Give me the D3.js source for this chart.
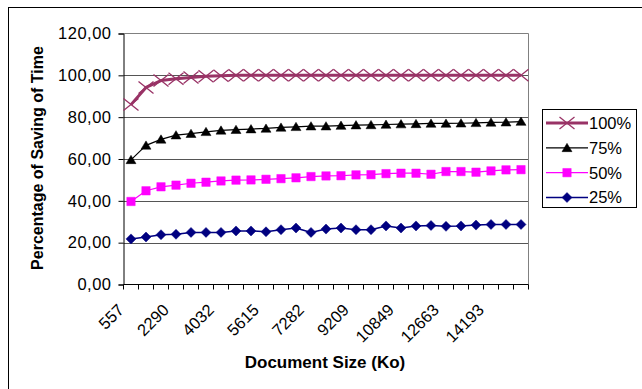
<!DOCTYPE html>
<html>
<head>
<meta charset="utf-8">
<script src="https://cdn.jsdelivr.net/npm/d3@7"></script>
<style>
  body { margin: 0; background: #fff; }
  svg { display: block; }
  text { font-family: "Liberation Sans", Arial, sans-serif; fill: #000; }
</style>
</head>
<body>
<svg id="chart" width="642" height="389"></svg>
<script>
// Document sizes (Ko) shown under every third measurement
const sizeLabels = ["557", "2290", "4032", "5615", "7282", "9209", "10849", "12663", "14193"];
const labelStep = 3;
const measurementIndex = d3.range(27);

const yTickValues = [0, 20, 40, 60, 80, 100, 120];

// Percentage of saving of time for each share of the document
const saving100 = [86.0, 94.2, 97.5, 98.4, 99.0, 99.6, 99.8, 100, 100, 100, 100, 100, 100, 100,
                   100, 100, 100, 100, 100, 100, 100, 100, 100, 100, 100, 100, 100];
const saving75 = [59.6, 66.5, 69.4, 71.4, 72.1, 73.0, 73.7, 74.0, 74.3, 74.6, 75.1, 75.4, 75.7, 75.7,
                  76.0, 76.2, 76.3, 76.5, 76.7, 76.8, 77.0, 77.0, 77.1, 77.3, 77.5, 77.6, 77.9];
const saving50 = [39.7, 44.8, 46.7, 47.5, 48.4, 48.9, 49.5, 49.9, 50.0, 50.3, 50.6, 51.0, 51.6, 51.9,
                  52.0, 52.4, 52.5, 53.0, 53.2, 53.2, 52.7, 54.0, 54.0, 53.7, 54.3, 54.8, 54.9];
const saving25 = [21.8, 22.7, 23.8, 24.0, 24.9, 24.9, 24.9, 25.6, 25.6, 25.2, 26.2, 27.0, 24.9, 26.5,
                  27.0, 26.2, 26.2, 28.0, 27.0, 28.0, 28.2, 27.8, 28.0, 28.4, 28.7, 28.7, 28.7];

const seriesNames = ["100%", "75%", "50%", "25%"];
const seriesValues = [saving100, saving75, saving50, saving25];

// Drawing styles per series
const styles = [
  { color: "#993366", width: 3,   marker: "cross"    },
  { color: "#000000", width: 1.2, marker: "triangle" },
  { color: "#FF00FF", width: 1.2, marker: "square"   },
  { color: "#000080", width: 1.5, marker: "diamond"  }
];

const markerPath = {
  cross:    "M-7.5,-6L7.5,6M-7.5,6L7.5,-6",
  triangle: "M0,-4.5L5,3.8L-5,3.8Z",
  square:   "M-4.2,-4.2H4.2V4.2H-4.2Z",
  diamond:  "M0,-5L5,0L0,5L-5,0Z"
};

const svg = d3.select("#chart");

// Outer chart frame
svg.append("rect")
  .attr("x", 8.5).attr("y", 7.5)
  .attr("width", 634).attr("height", 390)
  .attr("fill", "#fff").attr("stroke", "#000").attr("stroke-width", 1);

const plot = { left: 123.5, right: 528.5, top: 33.5, bottom: 284.5 };

const x = d3.scaleBand()
  .domain(measurementIndex)
  .range([plot.left, plot.right])
  .padding(0);
const cx = i => x(i) + x.bandwidth() / 2;

const y = d3.scaleLinear()
  .domain([0, 120])
  .range([plot.bottom, plot.top]);

// Horizontal gridlines
svg.append("g")
  .selectAll("line")
  .data(yTickValues.filter(v => v > 0 && v < 120))
  .join("line")
  .attr("x1", plot.left).attr("x2", plot.right)
  .attr("y1", d => Math.round(y(d)) + 0.5).attr("y2", d => Math.round(y(d)) + 0.5)
  .attr("stroke", "#555").attr("stroke-width", 1);

// Plot area border (top and right)
svg.append("path")
  .attr("d", `M${plot.left},${plot.top}H${plot.right}V${plot.bottom}`)
  .attr("fill", "none").attr("stroke", "#808080").attr("stroke-width", 1);

// Y axis
const fmt = v => d3.format(".2f")(v).replace(".", ",");
const yAxis = d3.axisLeft(y)
  .tickValues(yTickValues)
  .tickSize(5)
  .tickPadding(7)
  .tickFormat(fmt);
const gy = svg.append("g")
  .attr("transform", `translate(${plot.left},0)`)
  .call(yAxis);
gy.select(".domain").attr("stroke", "#000");
gy.selectAll(".tick line").attr("stroke", "#000");
gy.selectAll(".tick text")
  .attr("font-size", 16.5)
  .attr("letter-spacing", 0.5)
  .attr("font-family", "Liberation Sans, Arial, sans-serif")
  .attr("fill", "#000");

// X axis: ticks on category boundaries
const boundaries = d3.range(28).map(i => plot.left + i * x.bandwidth());
const gx = svg.append("g");
gx.append("line")
  .attr("x1", plot.left).attr("x2", plot.right)
  .attr("y1", plot.bottom).attr("y2", plot.bottom)
  .attr("stroke", "#000");
gx.selectAll("line.tick")
  .data(boundaries)
  .join("line")
  .attr("class", "tick")
  .attr("x1", d => Math.round(d - 0.5) + 0.5).attr("x2", d => Math.round(d - 0.5) + 0.5)
  .attr("y1", plot.bottom).attr("y2", plot.bottom + 5)
  .attr("stroke", "#000");

gx.selectAll("text.lab")
  .data(sizeLabels)
  .join("text")
  .attr("class", "lab")
  .attr("font-size", 16.5)
  .attr("text-anchor", "end")
  .attr("transform", (d, i) => `translate(${cx(i * labelStep) - 6},311) rotate(-45)`)
  .text(d => d);

// Axis titles
svg.append("text")
  .attr("x", 325).attr("y", 368)
  .attr("text-anchor", "middle")
  .attr("font-size", 17).attr("font-weight", "bold")
  .text("Document Size (Ko)");

svg.append("text")
  .attr("transform", "translate(43,158) rotate(-90)")
  .attr("text-anchor", "middle")
  .attr("font-size", 16).attr("font-weight", "bold")
  .text("Percentage of Saving of Time");

// Series lines and markers
const line = d3.line().x((d, i) => cx(i)).y(d => y(d));
const seriesG = svg.append("g");
seriesValues.slice().reverse().forEach((vals, ri) => {
  const s = styles[styles.length - 1 - ri];
  const g = seriesG.append("g");
  g.append("path")
    .attr("d", line(vals))
    .attr("fill", "none")
    .attr("stroke", s.color)
    .attr("stroke-width", s.width)
    .attr("stroke-linejoin", "round");
  g.selectAll("path.m")
    .data(vals)
    .join("path")
    .attr("class", "m")
    .attr("transform", (d, i) => `translate(${cx(i)},${y(d)})`)
    .attr("d", markerPath[s.marker])
    .attr("fill", s.marker === "cross" ? "none" : s.color)
    .attr("stroke", s.color)
    .attr("stroke-width", s.marker === "cross" ? 1.3 : 0.5);
});

// Legend
const legend = svg.append("g");
legend.append("rect")
  .attr("x", 542.5).attr("y", 109.5)
  .attr("width", 94).attr("height", 98)
  .attr("fill", "#fff").attr("stroke", "#000");
const legendY = d3.scalePoint().domain(seriesNames).range([123, 197.5]);
seriesNames.forEach((name, i) => {
  const s = styles[i];
  const ly = legendY(name);
  legend.append("line")
    .attr("x1", 546).attr("x2", 588)
    .attr("y1", ly).attr("y2", ly)
    .attr("stroke", s.color).attr("stroke-width", s.width);
  legend.append("path")
    .attr("transform", `translate(567,${ly})`)
    .attr("d", markerPath[s.marker])
    .attr("fill", s.marker === "cross" ? "none" : s.color)
    .attr("stroke", s.color)
    .attr("stroke-width", s.marker === "cross" ? 1.3 : 0.5);
  legend.append("text")
    .attr("x", 589).attr("y", ly)
    .attr("dy", "0.36em")
    .attr("font-size", 16.5)
    .text(name);
});
</script>
</body>
</html>
